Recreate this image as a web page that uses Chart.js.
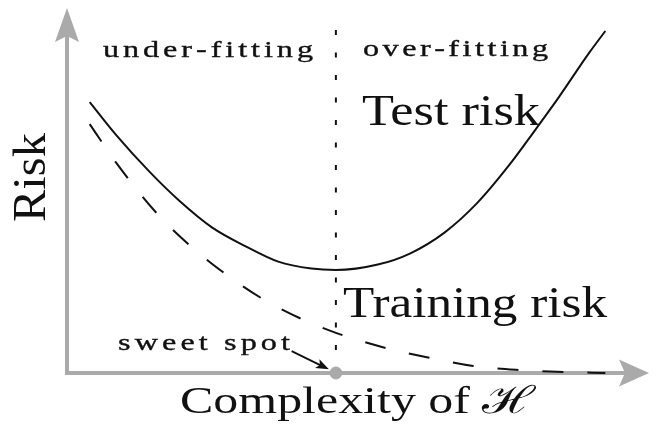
<!DOCTYPE html>
<html>
<head>
<meta charset="UTF-8">
<title>Risk vs complexity</title>
<script src="https://cdn.jsdelivr.net/npm/chart.js@4.4.1/dist/chart.umd.min.js"></script>
<style>
  html, body { margin: 0; padding: 0; background: #fff; }
  #chart { display: block; }
</style>
</head>
<body>
<canvas id="chart" width="656" height="427"></canvas>
<script>
// Curves. x = complexity, y = risk, both in arbitrary units 0..10.
const testComplexity = [0.39, 0.85, 1.42, 1.93, 2.49, 3.07, 3.63, 4.20, 4.62, 5.34, 5.90, 6.48, 7.05, 7.61, 8.05, 8.40, 8.98, 9.25];
const testRisk = [7.42, 6.51, 5.51, 4.72, 3.99, 3.47, 3.05, 2.86, 2.82, 2.97, 3.28, 3.84, 4.66, 5.72, 6.67, 7.44, 8.79, 9.37];

const trainComplexity = [0.39, 0.85, 1.54, 2.10, 2.70, 3.34, 4.03, 4.62, 5.49, 6.25, 6.98, 7.78, 8.52, 9.25];
const trainRisk = [6.82, 5.75, 4.38, 3.51, 2.74, 2.05, 1.48, 1.10, 0.68, 0.41, 0.19, 0.08, 0.03, 0.0];

const sweetSpot = 4.62;        // complexity where test risk is lowest
const dividerTop = 9.4;        // top of the dotted divider
const sweetArrowFrom = [3.86, 0.60];
const sweetArrowTo = [4.50, 0.10];

const regionLabels = ['under-fitting', 'over-fitting'];
const curveLabels = ['Test risk', 'Training risk'];
const markerLabel = 'sweet spot';
const xTitle = 'Complexity of ℋ';
const yTitle = 'Risk';

const AXIS_GREY = '#aaaaaa';
const INK = '#111111';
const SERIF = '"Liberation Serif", "DejaVu Serif", serif';

function pts(xs, ys) {
  return xs.map((x, i) => ({ x, y: ys[i] }));
}

// Draw text so that it spans `width` px. With `stretch` set, glyphs are widened
// by that factor and the rest is spread between letters; otherwise the whole
// string is scaled horizontally.
function fitText(ctx, text, x, y, width, size, stretch) {
  ctx.font = `${size}px ${SERIF}`;
  ctx.textBaseline = 'alphabetic';
  ctx.textAlign = 'left';
  if (!stretch) {
    const w = ctx.measureText(text).width;
    ctx.save();
    ctx.translate(x, y);
    ctx.scale(width / w, 1);
    ctx.fillText(text, 0, 0);
    ctx.restore();
    return;
  }
  const chars = Array.from(text);
  const widths = chars.map((c) => ctx.measureText(c).width * stretch);
  const natural = widths.reduce((a, b) => a + b, 0);
  const gap = chars.length > 1 ? (width - natural) / (chars.length - 1) : 0;
  let cx = x;
  ctx.strokeStyle = ctx.fillStyle;
  ctx.lineWidth = 0.35;
  chars.forEach((c, i) => {
    ctx.save();
    ctx.translate(cx, y);
    ctx.scale(stretch, 1);
    ctx.fillText(c, 0, 0);
    ctx.strokeText(c, 0, 0);
    ctx.restore();
    cx += widths[i] + gap;
  });
}

// LaTeX-ish arrow head with a notched back.
function arrowHead(ctx, tipX, tipY, angle, len, half, notch, color) {
  ctx.save();
  ctx.translate(tipX, tipY);
  ctx.rotate(angle);
  ctx.fillStyle = color;
  ctx.beginPath();
  ctx.moveTo(0, 0);
  ctx.lineTo(-len, -half);
  ctx.lineTo(-len + notch, 0);
  ctx.lineTo(-len, half);
  ctx.closePath();
  ctx.fill();
  ctx.restore();
}

const axesPlugin = {
  id: 'axes',
  beforeDatasetsDraw(chart) {
    const { ctx, scales: { x, y } } = chart;
    const x0 = x.getPixelForValue(x.min);
    const y0 = y.getPixelForValue(y.min);
    const xEnd = x.getPixelForValue(x.max);
    const yEnd = y.getPixelForValue(y.max);
    ctx.save();
    ctx.strokeStyle = AXIS_GREY;
    ctx.lineWidth = 4;
    ctx.lineCap = 'butt';
    ctx.beginPath();
    ctx.moveTo(x0, y0 + 2);
    ctx.lineTo(x0, yEnd + 25);
    ctx.moveTo(x0 - 2, y0);
    ctx.lineTo(xEnd - 22, y0);
    ctx.stroke();
    ctx.restore();
    arrowHead(ctx, x0, yEnd, -Math.PI / 2, 34, 12, 6, AXIS_GREY);
    arrowHead(ctx, xEnd, y0, 0, 30, 13.5, 6, AXIS_GREY);
  },
};

const notesPlugin = {
  id: 'notes',
  afterDatasetsDraw(chart) {
    const { ctx, scales: { x, y } } = chart;
    // sweet spot arrow
    const ax = x.getPixelForValue(sweetArrowFrom[0]);
    const ay = y.getPixelForValue(sweetArrowFrom[1]);
    const bx = x.getPixelForValue(sweetArrowTo[0]);
    const by = y.getPixelForValue(sweetArrowTo[1]);
    const ang = Math.atan2(by - ay, bx - ax);
    ctx.save();
    ctx.strokeStyle = INK;
    ctx.lineWidth = 1.8;
    ctx.beginPath();
    ctx.moveTo(ax, ay);
    ctx.lineTo(bx - 8 * Math.cos(ang), by - 8 * Math.sin(ang));
    ctx.stroke();
    ctx.restore();
    arrowHead(ctx, bx, by, ang, 13, 5, 3, INK);

    ctx.save();
    ctx.fillStyle = INK;
    fitText(ctx, regionLabels[0], 103, 57, 210, 23, 1.4);
    fitText(ctx, regionLabels[1], 363, 56, 185, 23, 1.4);
    fitText(ctx, markerLabel, 118, 350, 172, 23, 1.4);
    fitText(ctx, curveLabels[0], 362, 125, 178, 44);
    fitText(ctx, curveLabels[1], 343, 317, 264, 44);
    fitText(ctx, xTitle, 180, 413, 355, 38);
    ctx.translate(45, 222);
    ctx.rotate(-Math.PI / 2);
    fitText(ctx, yTitle, 0, 0, 89, 46);
    ctx.restore();
  },
};

new Chart(document.getElementById('chart'), {
  type: 'scatter',
  data: {
    datasets: [
      {
        label: 'sweet spot',
        data: [{ x: sweetSpot, y: 0 }],
        pointRadius: 6,
        pointBackgroundColor: AXIS_GREY,
        pointBorderColor: AXIS_GREY,
        showLine: false,
        clip: false,
      },
      {
        label: 'divider',
        data: [{ x: sweetSpot, y: dividerTop }, { x: sweetSpot, y: 0 }],
        showLine: true,
        borderColor: INK,
        borderWidth: 2,
        borderDash: [5, 17.5],
        pointRadius: 0,
        clip: false,
      },
      {
        label: 'Test risk',
        data: pts(testComplexity, testRisk),
        showLine: true,
        borderColor: INK,
        borderWidth: 2,
        cubicInterpolationMode: 'monotone',
        pointRadius: 0,
        clip: false,
      },
      {
        label: 'Training risk',
        data: pts(trainComplexity, trainRisk),
        showLine: true,
        borderColor: INK,
        borderWidth: 2,
        borderDash: [21, 24],
        cubicInterpolationMode: 'monotone',
        pointRadius: 0,
        clip: false,
      },
    ],
  },
  options: {
    responsive: false,
    animation: false,
    devicePixelRatio: 1,
    layout: { padding: { left: 67, right: 3, top: 8, bottom: 54 } },
    scales: {
      x: { type: 'linear', min: 0, max: 10, display: false },
      y: { type: 'linear', min: 0, max: 10, display: false },
    },
    plugins: {
      legend: { display: false },
      tooltip: { enabled: false },
    },
  },
  plugins: [axesPlugin, notesPlugin],
});
</script>
</body>
</html>
